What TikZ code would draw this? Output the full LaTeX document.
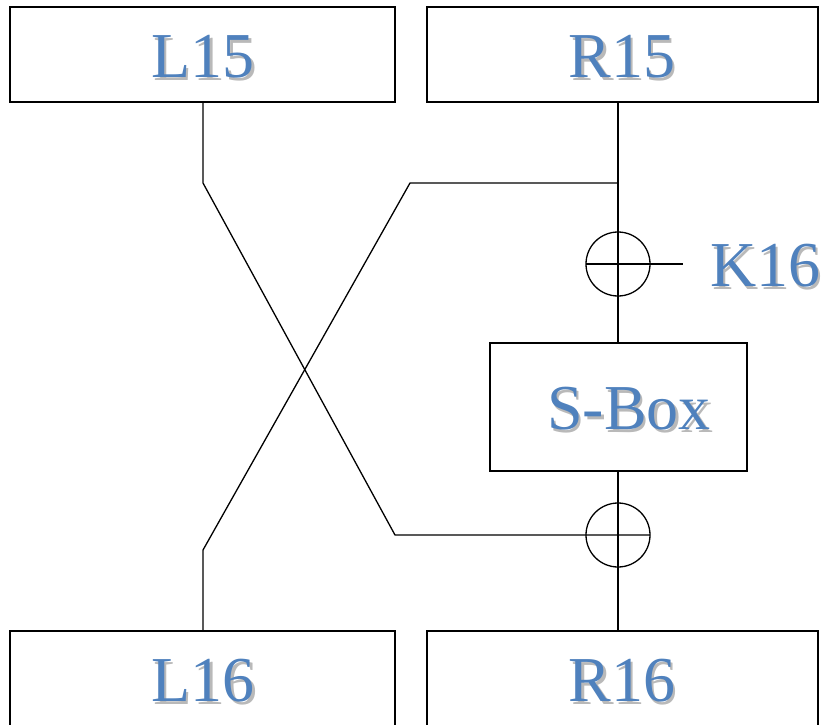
\documentclass[tikz,border=0pt]{standalone}
\usepackage{fontspec}
\setmainfont{Liberation Serif}
\definecolor{txtblue}{RGB}{79,129,189}
\definecolor{shgray}{RGB}{185,185,185}
\newcommand\shtxt[1]{\rlap{\smash{\hspace{2.5pt}\raisebox{-2.5pt}{\color{shgray}#1}}}{\color{txtblue}#1}}
\tikzset{
  regbox/.style={draw, line width=1.3pt, inner sep=0pt, outer sep=0pt, rectangle},
  lbl/.style={font=\fontsize{64}{70}\selectfont, inner sep=0pt},
  xorc/.style={draw, circle, line width=1.3pt, minimum size=64pt, inner sep=0pt, outer sep=0pt},
  wire/.style={line width=1.3pt}
}
\begin{document}
\begin{tikzpicture}[x=1pt,y=-1pt]
\useasboundingbox (0,0) rectangle (825,725);
\node[regbox, minimum width=385pt, minimum height=95pt] (L15) at (202.5,54.5) {};
\node[regbox, minimum width=391pt, minimum height=95pt] (R15) at (622.5,54.5) {};
\node[regbox, minimum width=385pt, minimum height=100pt] (L16) at (202.5,681) {};
\node[regbox, minimum width=391pt, minimum height=100pt] (R16) at (622.5,681) {};
\node[regbox, minimum width=257pt, minimum height=128pt] (SB) at (618.5,407) {};
\node[lbl] (tL15) at (203,57) {\shtxt{L15}};
\node[lbl] (tR15) at (622,57) {\shtxt{R15}};
\node[lbl] (tL16) at (203,681) {\shtxt{L16}};
\node[lbl] (tR16) at (622,681) {\shtxt{R16}};
\node[lbl] (tSB) at (629,409) {\shtxt{S-Box}};
\node[xorc] (X1) at (618,264) {};
\node[xorc] (X2) at (618,535) {};
\node[lbl, anchor=west] (tK16) at (710,266) {\shtxt{K16}};
\coordinate (K) at (683,264);
\coordinate (J) at (618,183);
\coordinate (A) at (203,183);
\coordinate (B) at (395,535);
\coordinate (C) at (410,183);
\coordinate (D) at (203,550);
% left line L15 -> X2
\draw[wire] (L15.south -| A) -- (A) -- (B) -- (X2.east);
% right vertical
\draw[wire] (R15.south -| X1) -- (SB.north -| X1);
\draw[wire] (SB.south -| X2) -- (R16.north -| X2);
% branch to L16
\draw[wire] (J) -- (C) -- (D) -- (L16.north -| D);
% key
\draw[wire] (X1.west) -- (K);
\end{tikzpicture}
\end{document}
